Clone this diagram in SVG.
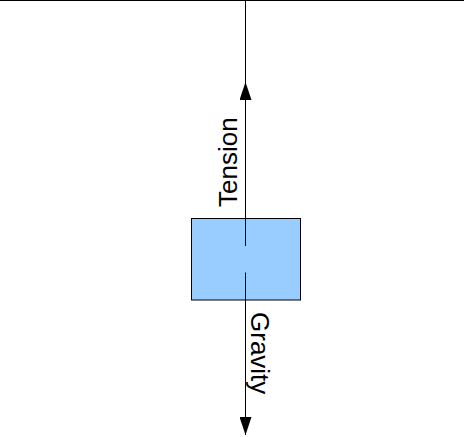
<svg xmlns="http://www.w3.org/2000/svg" width="464" height="437" viewBox="0 0 464 437">
<style>
.ln{stroke:#000;stroke-width:1;fill:none}
.lbl{font-family:"Liberation Sans",Arial,sans-serif;font-size:26px;fill:#000}
</style>
<defs>
<marker id="ah" viewBox="0 0 18 12" refX="18" refY="6" markerWidth="18" markerHeight="12" markerUnits="userSpaceOnUse" orient="auto">
<path d="M0,0 L18,6 L0,12 Z" fill="#000"/>
</marker>
</defs>
<rect width="464" height="437" fill="#fff"/>
<g id="ceiling"><line class="ln" x1="0" y1="0.5" x2="464" y2="0.5"/></g>
<g id="block"><rect x="191.5" y="218.5" width="109" height="81.5" fill="#99ccff" stroke="#000" stroke-width="1"/></g>
<g id="connectors">
<line class="ln" x1="245.5" y1="0" x2="245.5" y2="218.5"/>
<line class="ln" x1="245.5" y1="246" x2="245.5" y2="82" marker-end="url(#ah)"/>
<line class="ln" x1="245.5" y1="272.5" x2="245.5" y2="435" marker-end="url(#ah)"/>
</g>
<g id="label-tension"><text class="lbl" transform="translate(237,207) rotate(-90)">Tension</text></g>
<g id="label-gravity"><text class="lbl" transform="translate(251,312) rotate(90)">Gravity</text></g>
</svg>
